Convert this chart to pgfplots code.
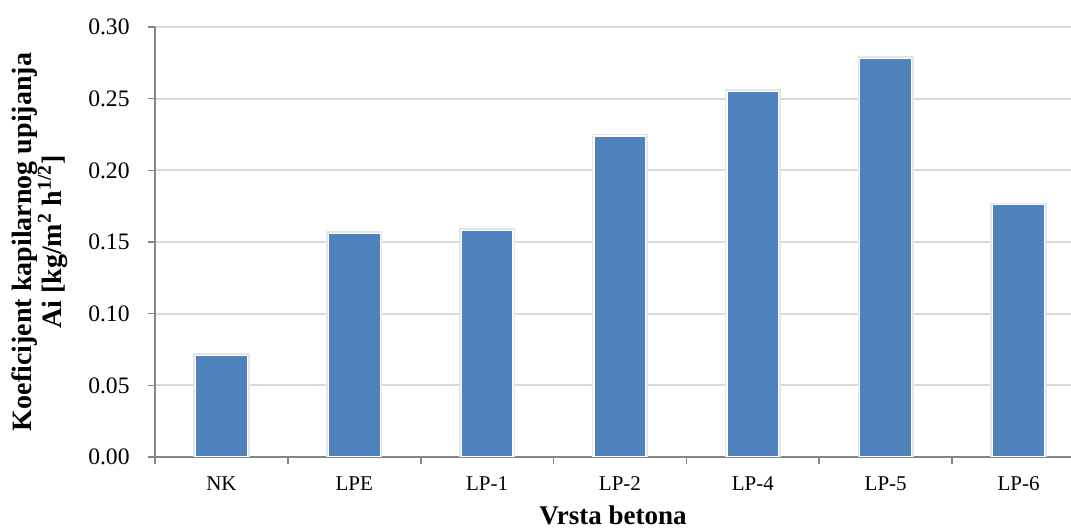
\documentclass[border=0pt]{standalone}
\usepackage{fontspec}
\setmainfont{Liberation Serif}
\usepackage{pgfplots}
\pgfplotsset{compat=1.18}
\definecolor{barblue}{HTML}{4F81BD}
\definecolor{axgray}{HTML}{868686}
\definecolor{gridgray}{HTML}{D9D9D9}
\begin{document}
\begin{tikzpicture}
\useasboundingbox (-77.5pt,-36pt) rectangle (458pt,228.5pt);
\begin{axis}[
  scale only axis,
  width=458pt, height=215pt,
  xmin=-0.5, xmax=6.395,
  ymin=0, ymax=0.30,
  axis lines*=left,
  axis line style={axgray, line width=0.8pt},
  tick align=outside,
  xtick={0,1,2,3,4,5,6},
  xticklabels={NK,LPE,LP-1,LP-2,LP-4,LP-5,LP-6},
  minor xtick={-0.5,0.5,1.5,2.5,3.5,4.5,5.5},
  major x tick style={draw=none},
  minor tick length=3.5pt,
  major tick length=3.5pt,
  every tick/.style={axgray, line width=0.8pt},
  ytick={0,0.05,0.10,0.15,0.20,0.25,0.30},
  ymajorgrids,
  major grid style={gridgray, line width=0.9pt},
  /pgf/number format/assume math mode=true,
  yticklabel style={/pgf/number format/fixed, /pgf/number format/precision=2, /pgf/number format/fixed zerofill, font=\fontsize{11.8}{12}\selectfont, inner sep=0pt, xshift=-9pt},
  scaled y ticks=false,
  xticklabel style={font=\fontsize{10.5}{12}\selectfont, inner sep=0pt, anchor=north, yshift=-6pt},
  xlabel={Vrsta betona},
  xlabel style={at={(axis description cs:0.5,0)}, anchor=base, yshift=-34pt, inner sep=0pt, font=\fontsize{13.5}{15}\selectfont\bfseries},
  ylabel={Koeficijent kapilarnog upijanja\\Ai [kg/m\textsuperscript{2} h\textsuperscript{1/2}]},
  ylabel style={at={(axis description cs:0,0.5)}, anchor=south, inner sep=0pt, yshift=43.5pt, align=center, font=\fontsize{14}{15}\selectfont\bfseries},
  ybar, bar width=0.39,
]
\addplot[bar shift=0pt, draw=black!10, line width=2.2pt, fill=none] coordinates {
(0,0.071) (1,0.156) (2,0.158) (3,0.224) (4,0.255) (5,0.278) (6,0.176)};
\addplot[bar shift=0pt, draw=white, line width=0.6pt, fill=barblue] coordinates {
(0,0.071) (1,0.156) (2,0.158) (3,0.224) (4,0.255) (5,0.278) (6,0.176)};
\end{axis}
\end{tikzpicture}
\end{document}
